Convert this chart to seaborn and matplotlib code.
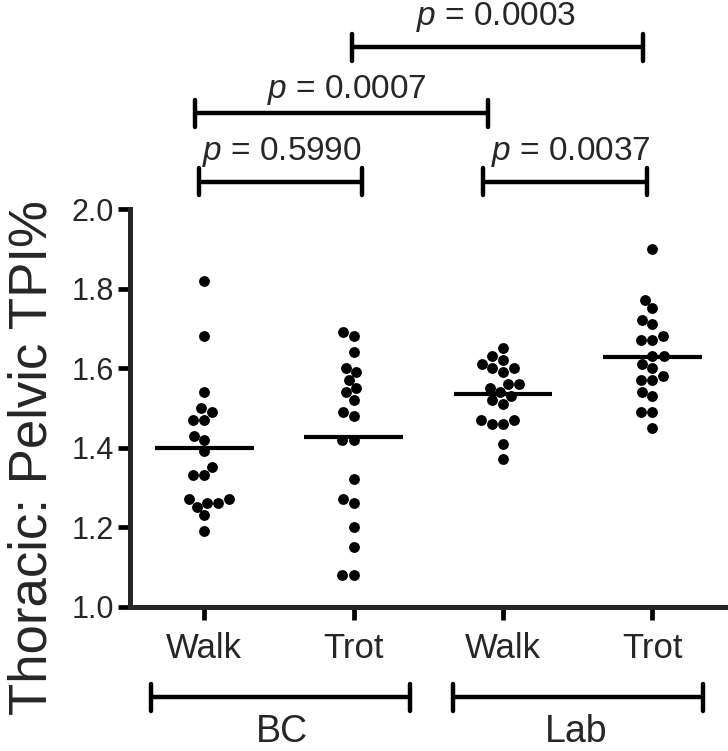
import numpy as np
import pandas as pd
import matplotlib
matplotlib.use("Agg")
import matplotlib.pyplot as plt
import seaborn as sns

# ---- data ----
cond_keys = ["BC Walk", "BC Trot", "Lab Walk", "Lab Trot"]
tick_labels = ["Walk", "Trot", "Walk", "Trot"]
group_names = ["BC", "Lab"]

bc_walk = [1.82, 1.68, 1.54, 1.49, 1.50, 1.47, 1.47, 1.42, 1.43, 1.39,
           1.35, 1.33, 1.33, 1.27, 1.27, 1.26, 1.26, 1.25, 1.23, 1.19]
bc_trot = [1.68, 1.69, 1.64, 1.59, 1.60, 1.57, 1.55, 1.54, 1.52, 1.48,
           1.49, 1.42, 1.42, 1.32, 1.27, 1.26, 1.20, 1.15, 1.08, 1.08]
lab_walk = [1.65, 1.63, 1.60, 1.61, 1.62, 1.60, 1.59, 1.55, 1.56, 1.56,
            1.54, 1.53, 1.52, 1.51, 1.47, 1.46, 1.46, 1.47, 1.41, 1.37]
lab_trot = [1.90, 1.77, 1.75, 1.72, 1.71, 1.67, 1.68, 1.67, 1.63, 1.63,
            1.61, 1.60, 1.57, 1.58, 1.57, 1.54, 1.53, 1.49, 1.49, 1.45]

p_labels = ["0.5990", "0.0037", "0.0007", "0.0003"]
y_ticks = [1.0, 1.2, 1.4, 1.6, 1.8, 2.0]

series = [bc_walk, bc_trot, lab_walk, lab_trot]
df = pd.DataFrame({
    "cond": np.repeat(cond_keys, [len(s) for s in series]),
    "val": np.concatenate(series),
})

sns.set_theme(style="ticks")
plt.rcParams["font.family"] = ["Liberation Sans", "DejaVu Sans"]
plt.rcParams["mathtext.fontset"] = "custom"
plt.rcParams["mathtext.it"] = "Liberation Sans:italic"
plt.rcParams["mathtext.rm"] = "Liberation Sans"

fig = plt.figure(figsize=(7.28, 7.51), dpi=100)
ax = fig.add_axes([0.178, 0.1924, 0.8206, 0.5293])

sns.swarmplot(data=df, x="cond", y="val", order=cond_keys, color="black",
              size=7.8, linewidth=0, ax=ax)

# mean lines
means = df.groupby("cond")["val"].mean()
for i, k in enumerate(cond_keys):
    ax.hlines(means[k], i - 0.33, i + 0.33, color="black", lw=3.0, zorder=1)

ax.set_xlim(-0.5, 3.5)
ax.set_ylim(1.0, 2.0)
ax.set_yticks(y_ticks)
ax.set_yticklabels([f"{t:.1f}" for t in y_ticks])
ax.set_xticks(range(len(cond_keys)))
ax.set_xticklabels(tick_labels)
ax.set_xlabel("")
ax.set_ylabel("")
fig.text(47 / 728, 1 - 458 / 751, "Thoracic: Pelvic TPI%", fontsize=38,
         rotation=90, rotation_mode="anchor", ha="center", va="baseline")

sns.despine(ax=ax)
for s in ["left", "bottom"]:
    ax.spines[s].set_linewidth(3.6)
ax.tick_params(axis="y", length=9, width=3.4, labelsize=22, pad=2, color="black")
ax.tick_params(axis="x", length=9, width=3.4, labelsize=25, pad=9, color="black")


def bracket(x0, x1, y, h=0.034):
    kw = dict(color="black", lw=3.2, clip_on=False)
    ax.plot([x0, x1], [y, y], solid_capstyle="butt", **kw)
    ax.plot([x0, x0], [y - h, y + h], solid_capstyle="round", **kw)
    ax.plot([x1, x1], [y - h, y + h], solid_capstyle="round", **kw)


# comparison brackets above the plot
bracket(-0.038, 1.056, 2.069)
bracket(1.867, 2.965, 2.069)
bracket(-0.065, 1.897, 2.241)
bracket(0.991, 2.938, 2.407)
txt = dict(ha="center", va="baseline", fontsize=24, clip_on=False)
ax.text(0.522, 2.123, r"$p$ = " + p_labels[0], **txt)
ax.text(2.458, 2.123, r"$p$ = " + p_labels[1], **txt)
ax.text(0.956, 2.279, r"$p$ = " + p_labels[2], **txt)
ax.text(1.956, 2.463, r"$p$ = " + p_labels[3], **txt)

# group brackets below the axis
bracket(-0.355, 1.376, 0.772)
bracket(1.665, 3.342, 0.772)
ax.text(0.522, 0.658, group_names[0], ha="center", va="baseline", fontsize=27, clip_on=False)
ax.text(2.49, 0.658, group_names[1], ha="center", va="baseline", fontsize=27, clip_on=False)

fig.savefig("out.png", dpi=100)
